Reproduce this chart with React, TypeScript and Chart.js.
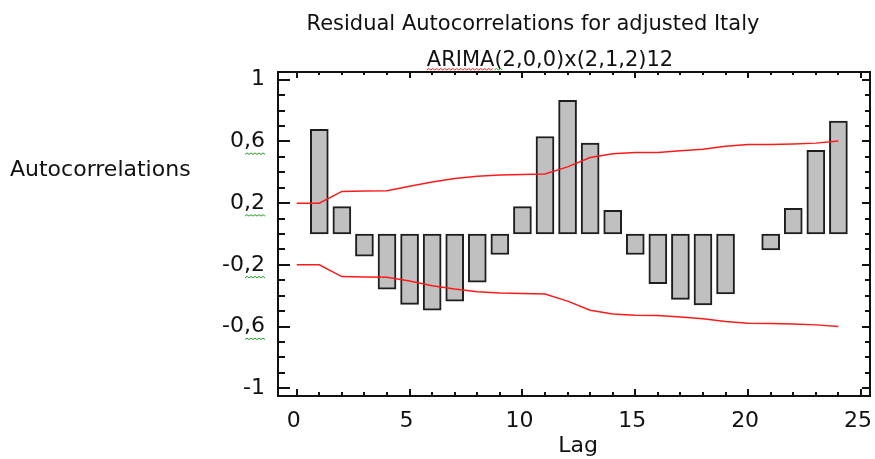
import React, { useEffect, useRef } from 'react';
import { Chart, registerables } from 'chart.js';

Chart.register(...registerables);

const titleText = 'Residual Autocorrelations for adjusted Italy';
const subtitleText = 'ARIMA(2,0,0)x(2,1,2)12';
const yAxisTitle = 'Autocorrelations';
const xAxisTitle = 'Lag';

const lags = [1, 2, 3, 4, 5, 6, 7, 8, 9, 10, 11, 12, 13, 14, 15, 16, 17, 18, 19, 20, 21, 22, 23, 24];
const autocorrelations = [
  0.678, 0.177, -0.144, -0.357, -0.456, -0.493, -0.435, -0.313, -0.133, 0.177, 0.632, 0.866,
  0.589, 0.153, -0.133, -0.322, -0.424, -0.459, -0.389, 0, -0.103, 0.166, 0.543, 0.732,
];
const limitLags = [0, 1, 2, 3, 4, 5, 6, 7, 8, 9, 10, 11, 12, 13, 14, 15, 16, 17, 18, 19, 20, 21, 22, 23, 24];
const upperLimits = [
  0.2, 0.2, 0.276, 0.278, 0.28, 0.309, 0.337, 0.359, 0.374, 0.383, 0.385, 0.389, 0.435,
  0.496, 0.52, 0.528, 0.528, 0.539, 0.55, 0.569, 0.58, 0.58, 0.584, 0.589, 0.602,
];
const lowerLimits = [
  -0.2, -0.2, -0.276, -0.278, -0.28, -0.305, -0.335, -0.357, -0.374, -0.383, -0.385, -0.389, -0.435,
  -0.494, -0.518, -0.526, -0.528, -0.538, -0.55, -0.567, -0.578, -0.58, -0.583, -0.589, -0.6,
];
const xTickValues = [0, 5, 10, 15, 20, 25];
const yTickValues = [-1, -0.6, -0.2, 0.2, 0.6, 1];

const FONT = '"DejaVu Sans", "Liberation Sans", sans-serif';

function wave(ctx: CanvasRenderingContext2D, x0: number, x1: number, y: number, color: string) {
  ctx.save();
  ctx.strokeStyle = color;
  ctx.lineWidth = 1;
  ctx.beginPath();
  let up = true;
  ctx.moveTo(x0, y);
  for (let x = x0 + 2; x <= x1; x += 2) {
    ctx.lineTo(x, up ? y - 1.5 : y);
    up = !up;
  }
  ctx.stroke();
  ctx.restore();
}

const framePlugin = {
  id: 'framePlugin',
  afterDraw(chart: any) {
    const { ctx, chartArea } = chart;
    const { left, right, top, bottom } = chartArea;
    const xs = chart.scales.x;
    const ys = chart.scales.y;
    ctx.save();
    ctx.strokeStyle = '#111';
    ctx.lineWidth = 2;
    ctx.strokeRect(left, top, right - left, bottom - top);
    ctx.beginPath();
    for (let k = -10; k <= 10; k++) {
      const py = Math.round(ys.getPixelForValue(k / 10));
      const major = (k + 10) % 4 === 0;
      ctx.moveTo(left, py);
      ctx.lineTo(left + (major ? 12 : 7), py);
      ctx.moveTo(right, py);
      ctx.lineTo(right - (major ? 8 : 5), py);
    }
    for (let k = 0; k <= 25; k++) {
      const px = Math.round(xs.getPixelForValue(k));
      const major = k % 5 === 0;
      ctx.moveTo(px, bottom);
      ctx.lineTo(px, bottom - (major ? 7 : 4));
      ctx.moveTo(px, top);
      ctx.lineTo(px, top + (major ? 6 : 3));
    }
    ctx.stroke();

    ctx.fillStyle = '#111';
    ctx.textBaseline = 'alphabetic';
    ctx.font = `21px ${FONT}`;
    ctx.textAlign = 'center';
    ctx.fillText(titleText, 533, 30);
    ctx.fillText(subtitleText, 550, 66);
    ctx.font = `22px ${FONT}`;
    ctx.textAlign = 'left';
    ctx.fillText(yAxisTitle, 10, 176);
    ctx.textAlign = 'center';
    ctx.fillText(xAxisTitle, 578, 452);

    // proofing squiggles visible in the reference
    ctx.font = `21px ${FONT}`;
    const subW = ctx.measureText(subtitleText).width;
    const sx = 550 - subW / 2;
    const aW = ctx.measureText('ARIMA').width;
    wave(ctx, sx, sx + aW, 70, '#ff2020');
    wave(ctx, sx + aW, sx + aW + 8, 70, '#20a020');
    ys.ticks.forEach((t: any) => {
      if (Math.abs(t.value) === 1) return;
      const py = ys.getPixelForValue(t.value);
      wave(ctx, left - 33, left - 13, py + 13, '#20a020');
    });
    ctx.restore();
  },
};

export default function App() {
  const ref = useRef<HTMLCanvasElement | null>(null);
  useEffect(() => {
    if (!ref.current) return;
    const chart = new Chart(ref.current, {
      type: 'bar',
      data: {
        datasets: [
          {
            type: 'line',
            data: limitLags.map((x, i) => ({ x, y: upperLimits[i] })),
            borderColor: '#ff1a1a',
            borderWidth: 1.5,
            pointRadius: 0,
            order: 1,
          } as any,
          {
            type: 'line',
            data: limitLags.map((x, i) => ({ x, y: lowerLimits[i] })),
            borderColor: '#ff1a1a',
            borderWidth: 1.5,
            pointRadius: 0,
            order: 1,
          } as any,
          {
            type: 'bar',
            data: lags.map((x, i) => ({ x, y: autocorrelations[i] })),
            backgroundColor: '#c0c0c0',
            borderColor: '#1e1e1e',
            borderWidth: 2,
            borderSkipped: false,
            barThickness: 18,
            order: 2,
          } as any,
        ],
      },
      options: {
        responsive: false,
        animation: false,
        devicePixelRatio: 1,
        layout: { padding: { top: 72, right: 5, left: 0, bottom: 0 } },
        plugins: { legend: { display: false }, tooltip: { enabled: false }, title: { display: false } },
        scales: {
          x: {
            type: 'linear',
            min: -0.83,
            max: 25.4,
            offset: false,
            grid: { display: false, drawTicks: false, offset: false },
            border: { display: false },
            afterBuildTicks: (scale: any) => {
              scale.ticks = xTickValues.map((value) => ({ value }));
            },
            afterFit: (scale: any) => {
              scale.height = 63;
              scale.paddingLeft = 0;
              scale.paddingRight = 0;
            },
            ticks: {
              padding: 12,
              labelOffset: -3,
              color: '#111',
              font: { family: FONT, size: 22 },
              maxRotation: 0,
              autoSkip: false,
            },
          },
          y: {
            type: 'linear',
            min: -1.05,
            max: 1.05,
            grid: { display: false, drawTicks: false },
            border: { display: false },
            afterBuildTicks: (scale: any) => {
              scale.ticks = yTickValues.map((value) => ({ value }));
            },
            afterFit: (scale: any) => {
              scale.width = 278;
              scale.paddingTop = 0;
              scale.paddingBottom = 0;
            },
            ticks: {
              padding: 13,
              color: '#111',
              font: { family: FONT, size: 22 },
              autoSkip: false,
              callback: (v: any) => String(v).replace('.', ','),
            },
          },
        },
      } as any,
      plugins: [framePlugin],
    });
    return () => chart.destroy();
  }, []);
  return (
    <div style={{ position: 'absolute', left: 0, top: 0, width: 875, height: 459, background: '#fff' }}>
      <canvas ref={ref} width={875} height={459} style={{ display: 'block' }} />
    </div>
  );
}
